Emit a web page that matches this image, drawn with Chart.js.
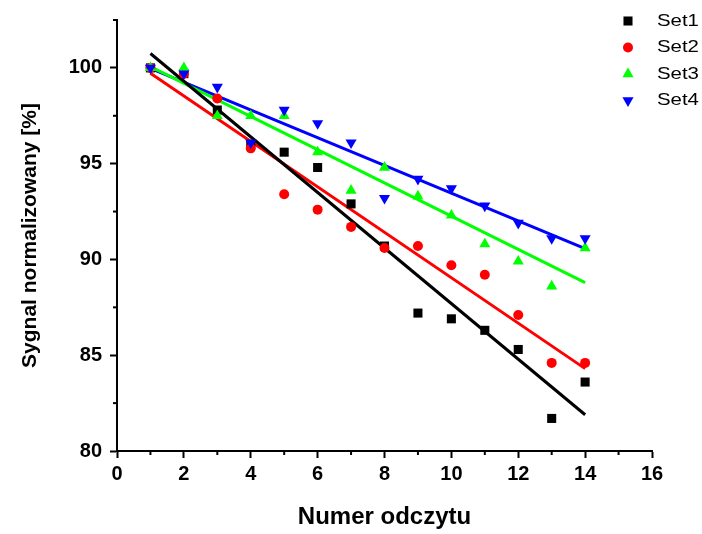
<!DOCTYPE html>
<html>
<head>
<meta charset="utf-8">
<script src="https://cdn.jsdelivr.net/npm/chart.js@4.4.0/dist/chart.umd.min.js"></script>
<style>
  html, body { margin: 0; padding: 0; background: #fff; }
  #container { width: 702px; height: 534px; }
</style>
</head>
<body>
<div id="container"><canvas id="app" width="702" height="534"></canvas></div>
<script>
// reading number (x) and normalized signal per set (y, %)
const readings = [1, 2, 3, 4, 5, 6, 7, 8, 9, 10, 11, 12, 13, 14]
const set1 = [100, 99.7, 97.8, 96.0, 95.6, 94.8, 92.9, 90.7, 87.2, 86.9, 86.3, 85.3, 81.7, 83.6]
const set2 = [100, 99.7, 98.4, 95.8, 93.4, 92.6, 91.7, 90.6, 90.7, 89.7, 89.2, 87.1, 84.6, 84.6]
const set3 = [100, 100.0, 97.5, 97.5, 97.5, 95.6, 93.6, 94.8, 93.3, 92.3, 90.8, 89.9, 88.6, 90.6]
const set4 = [100, 99.7, 99.0, 96.1, 97.8, 97.1, 96.1, 93.2, 94.2, 93.7, 92.8, 91.9, 91.1, 91.1]

const seriesNames = ['Set1', 'Set2', 'Set3', 'Set4']
const seriesValues = [set1, set2, set3, set4]
const seriesColors = ['#000000', '#ff0000', '#00ff00', '#0000ff']
const seriesMarkers = ['rect', 'circle', 'triangle', 'triangle']
const seriesRotation = [0, 0, 0, 180]
const seriesRadius = [6.4, 5, 6.4, 6.4]

const xMinor = [1, 3, 5, 7, 9, 11, 13, 15]
const yMinor = [82.5, 87.5, 92.5, 97.5, 102.5]

const FONT = "'Liberation Sans', Arial, sans-serif"

function linearFit(xs, ys) {
  const n = xs.length
  const mx = xs.reduce((a, b) => a + b, 0) / n
  const my = ys.reduce((a, b) => a + b, 0) / n
  let sxy = 0, sxx = 0
  for (let i = 0; i < n; i++) {
    sxy += (xs[i] - mx) * (ys[i] - my)
    sxx += (xs[i] - mx) * (xs[i] - mx)
  }
  const slope = sxy / sxx
  const x0 = xs[0], x1 = xs[n - 1]
  return [
    { x: x0, y: my + slope * (x0 - mx) },
    { x: x1, y: my + slope * (x1 - mx) }
  ]
}

function buildDatasets() {
  const points = seriesNames.map((name, i) => ({
    type: 'scatter',
    label: name,
    data: readings.map((x, j) => ({ x: x, y: seriesValues[i][j] })),
    pointStyle: seriesMarkers[i],
    rotation: seriesRotation[i],
    pointRadius: seriesRadius[i],
    pointHoverRadius: seriesRadius[i],
    backgroundColor: seriesColors[i],
    borderColor: seriesColors[i],
    borderWidth: 0,
    order: 10 - i
  }))
  const fits = seriesNames.map((name, i) => ({
    type: 'line',
    label: name + ' fit',
    data: linearFit(readings, seriesValues[i]),
    borderColor: seriesColors[i],
    borderWidth: 3,
    pointRadius: 0,
    fill: false,
    order: 20 + i
  }))
  return points.concat(fits)
}

// tick marks without labels, plus the custom legend in the top right
const extras = {
  id: 'extras',
  afterDraw(chart) {
    const { ctx, scales: { x, y } } = chart
    ctx.save()
    ctx.strokeStyle = '#000'
    ctx.lineWidth = 2
    xMinor.forEach(v => {
      const px = x.getPixelForValue(v)
      ctx.beginPath()
      ctx.moveTo(px, x.top)
      ctx.lineTo(px, x.top + 4)
      ctx.stroke()
    })
    yMinor.forEach(v => {
      const py = y.getPixelForValue(v)
      ctx.beginPath()
      ctx.moveTo(y.right, py)
      ctx.lineTo(y.right - 4, py)
      ctx.stroke()
    })

    seriesNames.forEach((name, i) => {
      const ly = 21 + i * 26.5
      ctx.fillStyle = seriesColors[i]
      ctx.strokeStyle = seriesColors[i]
      Chart.helpers.drawPoint(ctx, {
        pointStyle: seriesMarkers[i],
        rotation: seriesRotation[i],
        radius: seriesRadius[i],
        borderWidth: 0
      }, 628, ly)
      // legend text is a little wider than its height suggests
      ctx.save()
      ctx.translate(657, ly)
      ctx.scale(1.2, 1)
      ctx.font = '17px ' + FONT
      ctx.textBaseline = 'middle'
      ctx.textAlign = 'left'
      ctx.fillStyle = '#000'
      ctx.fillText(name, 0, 0)
      ctx.restore()
    })
    ctx.restore()
  }
}

function createChart(canvas) {
  return new Chart(canvas, {
    data: { datasets: buildDatasets() },
    options: {
      responsive: false,
      animation: false,
      events: [],
      layout: { padding: { left: 0, top: 19, right: 50, bottom: 0 } },
      plugins: {
        legend: { display: false },
        tooltip: { enabled: false }
      },
      scales: {
        x: {
          type: 'linear',
          min: 0,
          max: 16,
          afterFit: s => { s.height = 83 },
          border: { display: true, color: '#000', width: 2 },
          grid: { drawOnChartArea: false, drawTicks: true, tickLength: 7, tickWidth: 2, tickColor: '#000' },
          ticks: { stepSize: 2, color: '#000', padding: 4, font: { family: FONT, size: 20, weight: 'bold' } },
          title: {
            display: true,
            text: 'Numer odczytu',
            color: '#000',
            font: { family: FONT, size: 24, weight: 'bold' },
            padding: { top: 0, bottom: 2 }
          }
        },
        y: {
          type: 'linear',
          min: 80,
          max: 102.5,
          afterFit: s => { s.width = 117 },
          border: { display: true, color: '#000', width: 2 },
          grid: { drawOnChartArea: false, drawTicks: true, tickLength: 7, tickWidth: 2, tickColor: '#000' },
          ticks: { stepSize: 5, includeBounds: false, color: '#000', padding: 8, font: { family: FONT, size: 20, weight: 'bold' } },
          title: {
            display: true,
            text: 'Sygnal normalizowany [%]',
            color: '#000',
            font: { family: FONT, size: 21, weight: 'bold' },
            padding: { top: 18, bottom: 0 }
          }
        }
      }
    },
    plugins: [extras]
  })
}

createChart(document.getElementById('app'))
</script>
</body>
</html>
